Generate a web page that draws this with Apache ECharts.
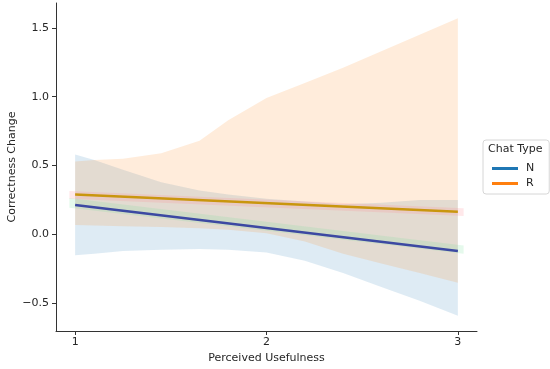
<!DOCTYPE html>
<html>
<head>
<meta charset="utf-8">
<script src="https://cdn.jsdelivr.net/npm/echarts@6/dist/echarts.min.js"></script>
<style>html,body{margin:0;padding:0;background:#fff}#c{width:550px;height:369px}</style>
</head>
<body>
<div id="c"></div>
<script>
// Data
const bandX = [1, 1.1, 1.25, 1.45, 1.65, 1.8, 2.0, 2.2, 2.4, 2.6, 2.8, 3.0];
const rUpper = [0.53, 0.54, 0.55, 0.59, 0.68, 0.83, 0.99, 1.10, 1.21, 1.33, 1.45, 1.57];
const rLower = [0.07, 0.065, 0.06, 0.055, 0.045, 0.035, 0.01, -0.05, -0.14, -0.21, -0.28, -0.35];
const nUpper = [0.58, 0.54, 0.47, 0.38, 0.32, 0.29, 0.26, 0.24, 0.22, 0.23, 0.25, 0.25];
const nLower = [-0.15, -0.14, -0.12, -0.11, -0.105, -0.11, -0.13, -0.19, -0.28, -0.38, -0.48, -0.59];
const lineX = [1, 3];
const nLine = [0.215, -0.12];
const rLine = [0.29, 0.165];
const thinX = [0.97, 3.03];
const pinkLower = [0.26, 0.135];
const pinkUpper = [0.315, 0.19];
const greenLower = [0.195, -0.14];
const greenUpper = [0.265, -0.08];
const xTicks = [1, 2, 3];
const yTicks = [-0.5, 0, 0.5, 1.0, 1.5];
const categories = ['N', 'R'];

function bandSeries(xs, lo, hi, fill) {
  const pts = xs.map((x, i) => [x, lo[i], hi[i]]);
  return {
    type: 'custom',
    silent: true,
    data: pts,
    encode: {x: 0, y: [1, 2]},
    clip: true,
    renderItem: function (params, api) {
      if (params.dataIndex !== 0) return null;
      const top = pts.map(p => api.coord([p[0], p[2]]));
      const bot = pts.slice().reverse().map(p => api.coord([p[0], p[1]]));
      return {type: 'polygon', shape: {points: top.concat(bot)}, style: {fill: fill}};
    }
  };
}

const chart = echarts.init(document.getElementById('c'), null, {renderer: 'canvas'});
const font = 'DejaVu Sans';
chart.setOption({
  animation: false,
  textStyle: {fontFamily: font},
  grid: {left: 56, top: 3, right: 73, bottom: 38, containLabel: false, outerBoundsMode: 'none'},
  xAxis: {
    type: 'value', min: 0.9, max: 3.1,
    name: 'Perceived Usefulness', nameLocation: 'middle', nameGap: 21,
    nameTextStyle: {fontSize: 11, color: '#262626', fontFamily: font},
    axisLine: {onZero: false, lineStyle: {color: '#333', width: 1}},
    axisTick: {customValues: xTicks, length: 4, lineStyle: {color: '#333'}},
    axisLabel: {customValues: xTicks, fontSize: 11, color: '#262626', margin: 6, fontFamily: font},
    splitLine: {show: false}
  },
  yAxis: {
    type: 'value', min: -0.7, max: 1.68,
    name: 'Correctness Change', nameLocation: 'middle', nameGap: 38, nameRotate: 90,
    nameMoveOverlap: false,
    nameTextStyle: {fontSize: 11, color: '#262626', fontFamily: font},
    axisLine: {show: true, onZero: false, lineStyle: {color: '#333', width: 1}},
    axisTick: {show: true, customValues: yTicks, length: 4, lineStyle: {color: '#333'}},
    axisLabel: {customValues: yTicks, fontSize: 11, color: '#262626', margin: 7, fontFamily: font,
      formatter: v => (v < 0 ? '\u2212' : '') + Math.abs(v).toFixed(1)},
    splitLine: {show: false}
  },
  legend: {
    orient: 'vertical', left: 483, top: 140,
    padding: [23, 15, 5, 9], itemGap: 4,
    borderColor: '#d6d6d6', borderWidth: 1, borderRadius: 3,
    itemWidth: 26, itemHeight: 3, icon: 'rect',
    textStyle: {fontSize: 11, color: '#262626', fontFamily: font, padding: [0, 0, 0, 3]},
    data: [
      {name: categories[0], itemStyle: {color: '#1f77b4'}},
      {name: categories[1], itemStyle: {color: '#ff7f0e'}}
    ]
  },
  graphic: [{
    type: 'text', left: 488, top: 144,
    style: {text: 'Chat Type', fontSize: 11, fill: '#262626', fontFamily: font}
  }],
  series: [
    bandSeries(bandX, nLower, nUpper, 'rgba(31,119,180,0.15)'),
    bandSeries(bandX, rLower, rUpper, 'rgba(255,127,14,0.15)'),
    bandSeries(thinX, pinkLower, pinkUpper, 'rgba(255,130,140,0.18)'),
    bandSeries(thinX, greenLower, greenUpper, 'rgba(110,220,150,0.18)'),
    {
      name: categories[0], type: 'line', showSymbol: false, silent: true,
      data: lineX.map((x, i) => [x, nLine[i]]),
      lineStyle: {color: '#3c49a2', width: 2.5}, itemStyle: {color: '#3c49a2'}
    },
    {
      name: categories[1], type: 'line', showSymbol: false, silent: true,
      data: lineX.map((x, i) => [x, rLine[i]]),
      lineStyle: {color: '#c9960e', width: 2.5}, itemStyle: {color: '#c9960e'}
    }
  ]
});
</script>
</body>
</html>
